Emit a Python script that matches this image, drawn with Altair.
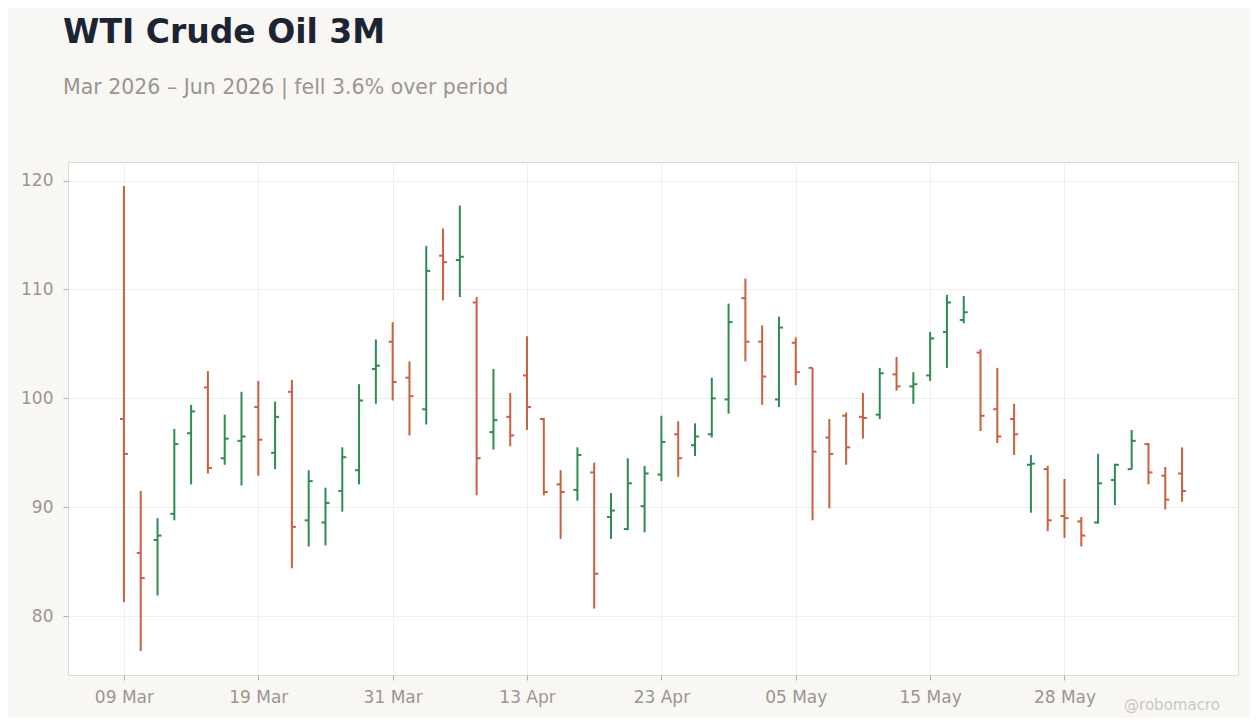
import json
import altair as alt
import pandas as pd

# OHLC, one per trading day
opens = [98.1, 85.8, 87.0, 89.4, 96.8, 101.0, 94.5, 96.1, 99.2, 95.0,
         100.6, 88.8, 88.6, 91.5, 93.4, 102.7, 105.2, 101.9, 99.0, 113.1,
         112.7, 108.8, 96.9, 98.3, 102.1, 98.1, 92.1, 91.6, 93.2, 89.1,
         88.0, 90.1, 93.0, 96.7, 95.7, 96.7, 99.9, 109.2, 105.2, 99.9,
         105.1, 102.8, 96.4, 98.4, 98.3, 98.5, 102.2, 101.1, 102.1, 106.1,
         107.2, 104.2, 99.0, 98.1, 93.9, 93.5, 89.2, 88.7, 88.6, 92.5,
         93.5, 95.8, 92.9, 93.1]
highs = [119.5, 91.5, 89.0, 97.2, 99.4, 102.5, 98.5, 100.6, 101.6, 99.7,
         101.7, 93.4, 91.8, 95.5, 101.3, 105.4, 107.0, 103.4, 114.0, 115.6,
         117.7, 109.3, 102.7, 100.5, 105.7, 98.2, 93.4, 95.5, 94.1, 91.3,
         94.5, 93.8, 98.4, 97.9, 97.7, 101.9, 108.7, 111.0, 106.7, 107.5,
         105.6, 102.8, 98.1, 98.7, 100.5, 102.8, 103.8, 102.4, 106.1, 109.5,
         109.4, 104.5, 102.8, 99.5, 94.8, 93.8, 92.6, 89.1, 94.9, 94.0,
         97.1, 95.9, 93.7, 95.5]
lows = [81.3, 76.8, 81.9, 88.8, 92.1, 93.1, 93.9, 92.0, 92.9, 93.5,
        84.4, 86.4, 86.5, 89.6, 92.1, 99.5, 99.8, 96.6, 97.6, 109.0,
        109.3, 91.1, 95.3, 95.6, 97.1, 91.1, 87.1, 90.6, 80.7, 87.1,
        87.9, 87.7, 92.4, 92.8, 94.7, 96.4, 98.6, 103.4, 99.4, 99.2,
        101.2, 88.8, 89.9, 93.9, 96.3, 98.1, 100.7, 99.5, 101.6, 102.8,
        106.9, 97.0, 95.9, 94.8, 89.5, 87.8, 87.2, 86.4, 88.5, 90.2,
        93.5, 92.1, 89.8, 90.5]
closes = [94.9, 83.5, 87.4, 95.8, 98.8, 93.6, 96.3, 96.5, 96.2, 98.3,
          88.2, 92.4, 90.4, 94.6, 99.8, 103.0, 101.5, 100.2, 111.7, 112.5,
          113.0, 94.5, 98.0, 96.6, 99.2, 91.4, 91.4, 94.8, 83.9, 89.7,
          92.2, 93.1, 96.0, 94.5, 96.5, 100.0, 107.0, 105.2, 102.0, 106.5,
          102.4, 95.1, 94.9, 95.5, 98.2, 102.3, 101.1, 101.3, 105.5, 108.8,
          107.9, 98.4, 96.5, 96.7, 94.0, 88.8, 89.0, 87.4, 92.2, 93.9,
          96.1, 93.2, 90.7, 91.5]

# trading days (Good Friday and Memorial Day closed)
days = pd.bdate_range("2026-03-09", "2026-06-08")
days = days[~days.isin(pd.to_datetime(["2026-04-03", "2026-05-25"]))]
labels = [d.strftime("%d %b") for d in days]

df = pd.DataFrame({"i": range(len(opens)), "date": labels,
                   "open": opens, "high": highs, "low": lows, "close": closes})
df["dir"] = ["up" if c >= o else "down" for o, c in zip(opens, closes)]

UP, DOWN = "#2f8a55", "#c9603f"
FONT = "DejaVu Sans"
GREY = "#9b968f"

color = alt.Color("dir:N", scale=alt.Scale(domain=["up", "down"], range=[UP, DOWN]), legend=None)
xscale = alt.Scale(domain=[-3.33, 66.33], nice=False, zero=False)
yscale = alt.Scale(domain=[74.6, 121.7], nice=False, zero=False)
xaxis = alt.Axis(values=list(range(0, 64, 8)), labelExpr=f"{json.dumps(labels)}[datum.value]")
yaxis = alt.Axis(values=[80, 90, 100, 110, 120])


def X(f="i:Q"):
    return alt.X(f, title=None, scale=xscale, axis=xaxis)


def Y(f):
    return alt.Y(f, title=None, scale=yscale, axis=yaxis)


base = alt.Chart(df)
wick = base.mark_rule(strokeWidth=2).encode(x=X(), y=Y("low:Q"), y2="high:Q", color=color)
open_tick = base.mark_rule(strokeWidth=2, xOffset=-4).encode(x=X(), x2="i:Q", y=Y("open:Q"), color=color)
close_tick = base.mark_rule(strokeWidth=2, x2Offset=4).encode(x=X(), x2="i:Q", y=Y("close:Q"), color=color)

mark = alt.Chart(pd.DataFrame({"t": ["@robomacro"]})).mark_text(
    font=FONT, fontSize=15, color="#cbc7c1", baseline="middle", align="center"
).encode(x=alt.value(1104), y=alt.value(543), text="t:N")

chart = (
    alt.layer(wick, open_tick, close_tick, mark)
    .properties(
        width=1170, height=513,
        padding={"left": 12, "top": 8, "right": 12, "bottom": 5},
        background="#f8f7f4",
        title=alt.TitleParams(
            "WTI Crude Oil 3M",
            subtitle=["Mar 2026 – Jun 2026 | fell 3.6% over period"],
            anchor="start", frame="group", dx=-5, offset=64,
            font=FONT, fontSize=33, fontWeight="bold", color="#1c2333",
            subtitleFont=FONT, subtitleFontSize=20.5, subtitleColor=GREY, subtitlePadding=28,
        ),
    )
    .configure_view(fill="white", stroke="#ddd8d0", strokeWidth=1)
    .configure_axis(
        labelFont=FONT, labelFontSize=17, labelColor=GREY, labelPadding=9,
        tickColor="#b3aea7", tickSize=5, domain=False, gridColor="#f0efec",
    )
    .configure_axisY(labelPadding=10)
)

chart.save("out.html", embed_options={"renderer": "svg", "actions": False})
